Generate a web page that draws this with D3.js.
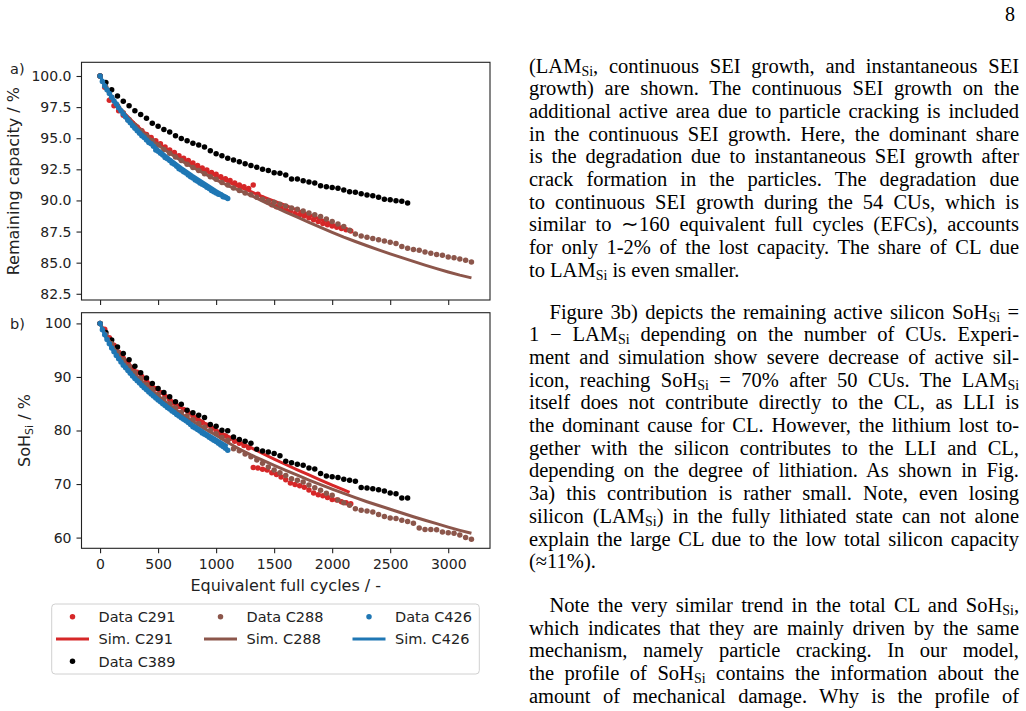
<!DOCTYPE html>
<html>
<head>
<meta charset="utf-8">
<script src="https://cdn.jsdelivr.net/npm/d3@7"></script>
<style>
  body { margin: 0; background: #fff; }
  svg { display: block; }
</style>
</head>
<body>
<div id="container"></div>
<script>
/* ---------- DATA ---------- */

// x ticks / y ticks
const efcTicks = [0, 500, 1000, 1500, 2000, 2500, 3000]
const capTicks = [82.5, 85, 87.5, 90, 92.5, 95, 97.5, 100]
const sohTicks = [60, 70, 80, 90, 100]

// C291 (red) measurements
const efcC291 = [0,40,80,120,160,200,240,280,320,360,400,440,480,520,560,600,640,680,720,760,800,840,880,920,960,1000,1040,1080,1120,1160,1200,1240,1280,1320,1360,1400,1440,1480,1520,1560,1600,1640,1680,1720,1760,1800,1840,1880,1920,1960,2000,2040,2080,2120,2160]
const capC291 = [100,99.1,98.05,97.6,97.2,96.85,96.5,96.2,95.9,95.6,95.3,95.05,94.8,94.55,94.3,94.05,93.85,93.6,93.4,93.2,93.0,92.8,92.6,92.45,92.25,92.1,91.9,91.75,91.6,91.4,91.25,91.1,90.95,91.24,90.5,90.2,89.9,89.65,89.5,89.4,89.25,89.15,88.95,88.85,88.75,88.6,88.45,88.3,88.15,88.05,87.95,87.85,87.75,87.65,87.55]
const sohC291 = [100,98.9,97.3,95.9,94.6,93.5,92.6,91.7,90.9,90.1,89.3,88.5,87.8,87.1,86.4,85.75,85.1,84.5,83.9,83.3,82.7,82.1,81.5,81.0,80.45,79.9,79.4,78.95,78.5,78.0,77.6,77.2,76.8,73.1,73.0,72.75,72.6,72.1,71.8,71.3,70.8,70.2,69.9,69.7,69.4,68.9,68.35,68.0,67.8,67.5,67.1,67.0,66.7,66.5,66.3]
// C291 simulation
const simEfcC291 = [0,50,100,150,200,300,400,500,600,700,800,900,1000,1100,1200,1300,1400,1500,1600,1700,1800,1900,2000,2100,2150]
const simCapC291 = [100,99.0,98.3,97.65,97.1,96.15,95.3,94.6,93.95,93.4,92.85,92.4,91.95,91.5,91.1,90.7,90.3,89.95,89.6,89.2,88.85,88.5,88.1,87.8,87.6]
const simSohC291 = [100,98.1,96.4,94.9,93.6,91.3,89.3,87.5,85.85,84.3,82.85,81.4,80.05,78.95,77.85,76.8,75.7,74.65,73.65,72.65,71.7,70.75,69.8,68.9,68.45]

// C389 (black) measurements
const efcC389 = [0,50,100,150,200,250,300,350,400,450,500,550,600,650,700,750,800,850,900,950,1000,1050,1100,1150,1200,1250,1300,1350,1400,1450,1500,1550,1600,1650,1700,1750,1800,1850,1900,1950,2000,2050,2100,2150,2200,2250,2300,2350,2400,2450,2500,2550,2600,2650]
const capC389 = [100,99.47,98.9,98.4,97.97,97.6,97.2,96.9,96.6,96.2,95.97,95.7,95.5,95.2,94.98,94.8,94.6,94.45,94.3,94.0,93.75,93.6,93.4,93.25,93.1,92.95,92.8,92.66,92.5,92.4,92.23,92.18,92.04,91.72,91.72,91.59,91.48,91.4,91.19,91.1,91.03,90.98,90.84,90.7,90.65,90.54,90.44,90.38,90.25,90.1,90.06,89.98,89.93,89.8]
const sohC389 = [100,98.3,96.9,95.6,94.4,93.2,92.0,90.8,89.8,88.8,87.85,87.1,86.3,85.35,84.9,83.8,83.3,82.85,82.45,81.1,80.8,80.05,79.95,78.8,78.3,78.0,77.6,76.5,76.15,76.0,75.7,75.3,74.25,74.0,73.7,73.5,73.0,72.8,71.95,71.5,71.35,71.2,70.9,70.7,70.5,69.35,69.25,69.1,68.95,68.7,68.35,68.2,67.4,67.4]

// C288 (brown) measurements
const efcC288 = [0,50,100,150,200,250,300,350,400,450,500,550,600,650,700,750,800,850,900,950,1000,1050,1100,1150,1200,1250,1300,1350,1400,1450,1500,1550,1600,1650,1700,1750,1800,1850,1900,1950,2000,2050,2100,2150,2200,2250,2300,2350,2400,2450,2500,2550,2600,2650,2700,2750,2800,2850,2900,2950,3000,3050,3100,3150,3200]
const capC288 = [100,99.1,98.3,97.6,97.05,96.5,96.05,95.6,95.2,94.8,94.45,94.1,93.8,93.5,93.2,92.9,92.65,92.4,92.15,91.9,91.7,91.45,91.25,91.0,90.8,90.6,90.45,90.25,90.1,89.95,89.85,89.7,89.55,89.4,89.3,89.15,89.0,88.85,88.7,88.5,88.3,88.1,87.9,87.6,87.3,87.15,87.05,86.95,86.85,86.75,86.65,86.55,86.3,86.15,86.05,86.0,85.85,85.75,85.65,85.6,85.45,85.4,85.3,85.2,85.05]
const sohC288 = [100,97.9,96.2,94.6,93.2,92.0,90.8,89.7,88.6,87.7,86.7,85.9,85.0,84.2,83.4,82.7,82.0,81.3,80.6,80.0,79.4,78.7,78.2,76.6,76.2,75.6,75.1,74.5,73.9,73.2,72.6,72.1,71.6,71.0,70.7,70.4,69.8,69.3,68.85,68.3,67.9,67.0,66.5,66.05,65.4,65.1,64.95,64.8,64.3,63.95,63.65,63.55,63.25,63.0,62.7,61.8,61.5,61.5,61.45,61.05,60.9,60.8,60.5,60.0,59.7]
// C288 simulation
const simEfcC288 = [0,50,100,150,200,300,400,500,600,700,800,900,1000,1100,1200,1300,1400,1500,1600,1700,1800,1900,2000,2100,2200,2300,2400,2500,2600,2700,2800,2900,3000,3100,3200]
const simCapC288 = [100,99.0,98.25,97.6,97.05,96.05,95.2,94.45,93.8,93.2,92.65,92.15,91.65,91.2,90.8,90.4,89.95,89.5,89.07,88.65,88.23,87.83,87.43,87.05,86.7,86.36,86.03,85.71,85.4,85.1,84.8,84.52,84.25,84.0,83.78]
const simSohC288 = [100,97.8,96.0,94.4,93.0,90.55,88.4,86.5,84.75,83.15,81.7,80.35,79.1,77.75,76.55,75.45,74.45,73.5,72.55,71.65,70.75,69.9,69.05,68.25,67.45,66.7,66.0,65.3,64.6,63.9,63.25,62.6,61.95,61.35,60.8]

// C426 (blue) measurements
const efcC426 = [0,20,40,60,80,100,120,140,160,180,200,220,240,260,280,300,320,340,360,380,400,420,440,460,480,500,520,540,560,580,600,620,640,660,680,700,720,740,760,780,800,820,840,860,880,900,920,940,960,980,1000,1020,1040,1060,1080,1100]
const capC426 = [100,99.55,99.2,98.9,98.6,98.3,98.0,97.75,97.45,97.2,96.95,96.7,96.45,96.25,96.0,95.8,95.6,95.4,95.2,95.05,94.85,94.65,94.55,94.35,94.05,93.95,93.8,93.65,93.45,93.35,93.2,93.0,92.9,92.75,92.55,92.45,92.3,92.2,92.05,91.9,91.8,91.65,91.55,91.4,91.3,91.2,91.05,90.95,90.8,90.7,90.6,90.5,90.45,90.3,90.25,90.15]
const sohC426 = [100,98.8,97.9,97.0,96.2,95.4,94.7,94.0,93.4,92.8,92.2,91.7,91.2,90.7,90.2,89.7,89.3,88.85,88.4,88.0,87.6,87.2,86.8,86.45,86.05,85.7,85.35,85.0,84.65,84.3,84.0,83.65,83.35,83.0,82.7,82.4,82.1,81.8,81.5,81.1,80.7,80.45,80.2,79.9,79.55,79.3,79.05,78.75,78.45,78.2,77.95,77.6,77.3,77.0,76.7,76.3]
// C426 simulation
const simEfcC426 = [0,50,100,150,200,300,400,500,600,700,800,900,1000,1100]
const simCapC426 = [100,99.1,98.35,97.65,97.0,95.9,94.95,94.1,93.35,92.65,92.0,91.4,90.8,90.25]
const simSohC426 = [100,97.3,95.4,93.8,92.4,89.9,87.8,85.9,84.2,82.6,81.1,79.7,78.4,77.1]

// legend labels (column-wise like matplotlib ncol=3)
const legendLabels = [
    ["Data C291", "Sim. C291", "Data C389"],
    ["Data C288", "Sim. C288"],
    ["Data C426", "Sim. C426"]
]

// body text of the page (one entry per printed line)
const paragraph1 = [
    "(LAM_{Si}, continuous SEI growth, and instantaneous SEI",
    "growth) are shown. The continuous SEI growth on the",
    "additional active area due to particle cracking is included",
    "in the continuous SEI growth. Here, the dominant share",
    "is the degradation due to instantaneous SEI growth after",
    "crack formation in the particles. The degradation due",
    "to continuous SEI growth during the 54 CUs, which is",
    "similar to \u223c160 equivalent full cycles (EFCs), accounts",
    "for only 1-2% of the lost capacity. The share of CL due",
    "to LAM_{Si} is even smaller."
]
const paragraph2 = [
    "Figure 3b) depicts the remaining active silicon SoH_{Si} =",
    "1 \u2212 LAM_{Si} depending on the number of CUs. Experi-",
    "ment and simulation show severe decrease of active sil-",
    "icon, reaching SoH_{Si} = 70% after 50 CUs. The LAM_{Si}",
    "itself does not contribute directly to the CL, as LLI is",
    "the dominant cause for CL. However, the lithium lost to-",
    "gether with the silicon contributes to the LLI and CL,",
    "depending on the degree of lithiation. As shown in Fig.",
    "3a) this contribution is rather small. Note, even losing",
    "silicon (LAM_{Si}) in the fully lithiated state can not alone",
    "explain the large CL due to the low total silicon capacity",
    "(\u224811%)."
]
const paragraph3 = [
    "Note the very similar trend in the total CL and SoH_{Si},",
    "which indicates that they are mainly driven by the same",
    "mechanism, namely particle cracking. In our model,",
    "the profile of SoH_{Si} contains the information about the",
    "amount of mechanical damage. Why is the profile of"
]

/* ---------- LAYOUT ---------- */
const colors = { red: "#d62728", brown: "#8c564b", blue: "#1f77b4", black: "#000000" }
const frame = { left: 81.5, right: 490 }
const panelA = { top: 62.3, bottom: 300 }
const panelB = { top: 312.7, bottom: 548.3 }
const sans = "DejaVu Sans"
const serif = "Liberation Serif"
const dotR = 2.75

const svg = d3.select("#container")
    .append("svg")
    .attr("width", 1026)
    .attr("height", 711)

const x = d3.scaleLinear().domain([-160, 3360]).range([frame.left, frame.right])
const yCap = d3.scaleLinear().domain([82.0, 101.1]).range([panelA.bottom, panelA.top])
const ySoh = d3.scaleLinear().domain([58.0, 102.0]).range([panelB.bottom, panelB.top])

// drawing order = matplotlib plotting order
const series = [
    { kind: "data", xs: efcC291, cap: capC291, soh: sohC291, color: colors.red },
    { kind: "sim", xs: simEfcC291, cap: simCapC291, soh: simSohC291, color: colors.red },
    { kind: "data", xs: efcC389, cap: capC389, soh: sohC389, color: colors.black },
    { kind: "data", xs: efcC288, cap: capC288, soh: sohC288, color: colors.brown },
    { kind: "sim", xs: simEfcC288, cap: simCapC288, soh: simSohC288, color: colors.brown },
    { kind: "data", xs: efcC426, cap: capC426, soh: sohC426, color: colors.blue },
    { kind: "sim", xs: simEfcC426, cap: simCapC426, soh: simSohC426, color: colors.blue }
]

function drawPanel(panel, y, key, ticks, fmt, showXLabels) {
    const g = svg.append("g")

    series.forEach(s => {
        const pts = s.xs.map((e, i) => [e, s[key][i]])
        if (s.kind === "sim") {
            g.append("path")
                .datum(pts)
                .attr("fill", "none")
                .attr("stroke", s.color)
                .attr("stroke-width", 3)
                .attr("stroke-linejoin", "round")
                .attr("d", d3.line().x(d => x(d[0])).y(d => y(d[1])))
        } else {
            g.append("g").selectAll("circle")
                .data(pts)
                .join("circle")
                .attr("cx", d => x(d[0]))
                .attr("cy", d => y(d[1]))
                .attr("r", dotR)
                .attr("fill", s.color)
        }
    })

    /* Y AXIS */
    svg.append("g")
        .attr("transform", `translate(${frame.left},0)`)
        .call(d3.axisLeft(y).tickValues(ticks).tickSize(5).tickPadding(5).tickFormat(fmt))
        .call(a => a.select(".domain").remove())
        .call(a => a.selectAll("line").attr("stroke", "#222").attr("stroke-width", 1.1))
        .call(a => a.selectAll("text").attr("fill", "#222"))
        .attr("font-family", sans)
        .attr("font-size", 14)

    /* X AXIS */
    svg.append("g")
        .attr("transform", `translate(0,${panel.bottom})`)
        .call(d3.axisBottom(x).tickValues(efcTicks).tickSize(5).tickPadding(6)
            .tickFormat(showXLabels ? d3.format("d") : () => ""))
        .call(a => a.select(".domain").remove())
        .call(a => a.selectAll("line").attr("stroke", "#222").attr("stroke-width", 1.1))
        .call(a => a.selectAll("text").attr("fill", "#222"))
        .attr("font-family", sans)
        .attr("font-size", 14)

    /* FRAME */
    svg.append("rect")
        .attr("x", frame.left)
        .attr("y", panel.top)
        .attr("width", frame.right - frame.left)
        .attr("height", panel.bottom - panel.top)
        .attr("fill", "none")
        .attr("stroke", "#222")
        .attr("stroke-width", 1.1)
}

drawPanel(panelA, yCap, "cap", capTicks, d3.format(".1f"), false)
drawPanel(panelB, ySoh, "soh", sohTicks, d3.format("d"), true)

/* PANEL LETTERS + AXIS LABELS */
svg.append("text").attr("x", 10).attr("y", 74)
    .attr("font-family", sans).attr("font-size", 14.5).attr("fill", "#222").text("a)")
svg.append("text").attr("x", 10).attr("y", 329)
    .attr("font-family", sans).attr("font-size", 14.5).attr("fill", "#222").text("b)")

svg.append("text")
    .attr("transform", `translate(19,${(panelA.top + panelA.bottom) / 2}) rotate(-90)`)
    .attr("text-anchor", "middle")
    .attr("font-family", sans).attr("font-size", 16).attr("fill", "#222")
    .text("Remaining capacity / %")

const sohLabel = svg.append("text")
    .attr("transform", `translate(30,${(panelB.top + panelB.bottom) / 2}) rotate(-90)`)
    .attr("text-anchor", "middle")
    .attr("font-family", sans).attr("font-size", 16).attr("fill", "#222")
sohLabel.append("tspan").text("SoH")
sohLabel.append("tspan").attr("font-size", 11).attr("dy", 3).text("Si")
sohLabel.append("tspan").attr("dy", -3).text(" / %")

svg.append("text")
    .attr("x", (frame.left + frame.right) / 2)
    .attr("y", 591)
    .attr("text-anchor", "middle")
    .attr("font-family", sans).attr("font-size", 16).attr("fill", "#222")
    .text("Equivalent full cycles / -")

/* LEGEND */
const legend = svg.append("g")
legend.append("rect")
    .attr("x", 51.7).attr("y", 604)
    .attr("width", 427.6).attr("height", 70)
    .attr("rx", 3.5)
    .attr("fill", "#fff")
    .attr("stroke", "#d0d0d0")
    .attr("stroke-width", 1)

const legendColors = [[colors.red, colors.red, colors.black], [colors.brown, colors.brown], [colors.blue, colors.blue]]
const colX = [56, 204, 352.5]
const rowY = [616.7, 639, 661.3]
legendLabels.forEach((col, ci) => {
    col.forEach((label, ri) => {
        const cx = colX[ci]
        const cy = rowY[ri]
        if (label.startsWith("Sim")) {
            legend.append("line")
                .attr("x1", cx).attr("x2", cx + 33)
                .attr("y1", cy).attr("y2", cy)
                .attr("stroke", legendColors[ci][ri])
                .attr("stroke-width", 3)
        } else {
            legend.append("circle")
                .attr("cx", cx + 16.5).attr("cy", cy)
                .attr("r", dotR)
                .attr("fill", legendColors[ci][ri])
        }
        legend.append("text")
            .attr("x", cx + 42.5).attr("y", cy + 5.2)
            .attr("font-family", sans).attr("font-size", 14.5).attr("fill", "#222")
            .text(label)
    })
})

/* PAGE TEXT */
const textLeft = 529
const textRight = 1019
const lineGap = 22.7
const bodySize = 20.5
const subShift = 3

function addLine(str, xPos, yPos, width, justify) {
    const t = svg.append("text")
        .attr("x", xPos)
        .attr("y", yPos)
        .attr("font-family", serif)
        .attr("font-size", bodySize)
        .attr("fill", "#000")
    let shifted = false
    str.split(/(_\{[^}]*\})/).forEach(part => {
        if (!part) return
        if (part.startsWith("_{")) {
            t.append("tspan").attr("font-size", bodySize * 0.68).attr("dy", subShift).text(part.slice(2, -1))
            shifted = true
        } else {
            const sp = t.append("tspan").text(part)
            if (shifted) { sp.attr("dy", -subShift); shifted = false }
        }
    })
    if (justify) {
        const natural = t.node().getComputedTextLength()
        const spaces = (str.match(/ /g) || []).length
        if (spaces) t.attr("word-spacing", (width - natural) / spaces)
    }
}

// lastOpen: the paragraph continues on the next page, so its last line is justified too
function addParagraph(lines, top, indent, lastOpen) {
    lines.forEach((line, i) => {
        const xPos = textLeft + (i === 0 ? indent : 0)
        const last = i === lines.length - 1
        addLine(line, xPos, top + i * lineGap, textRight - xPos, !last || lastOpen)
    })
}

addParagraph(paragraph1, 72.5, 0, false)
addParagraph(paragraph2, 318.5, 20.5, false)
addParagraph(paragraph3, 612, 20.5, true)

// page number
svg.append("text")
    .attr("x", 1015).attr("y", 21)
    .attr("text-anchor", "end")
    .attr("font-family", serif).attr("font-size", 20)
    .text("8")
</script>
</body>
</html>
